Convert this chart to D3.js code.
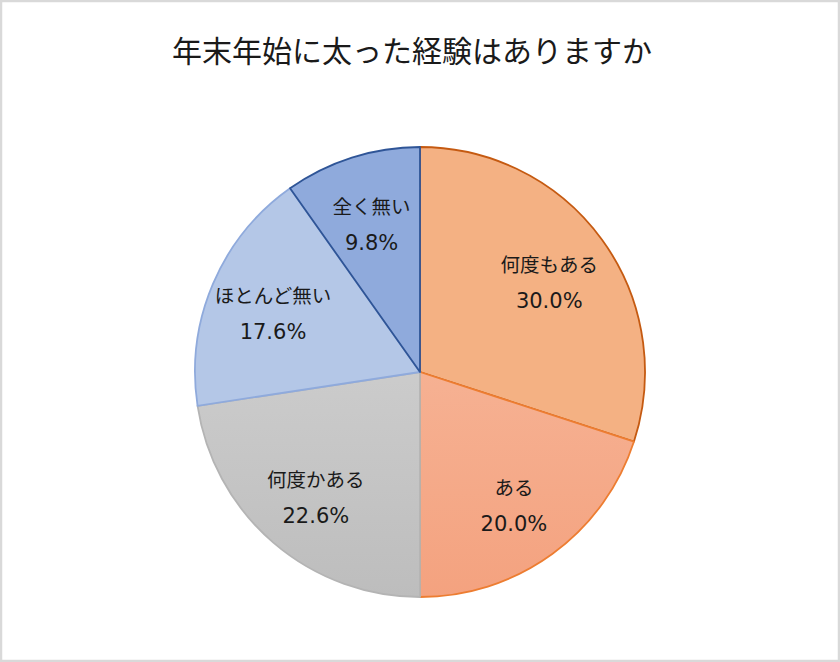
<!DOCTYPE html>
<html>
<head>
<meta charset="utf-8">
<script src="https://cdn.jsdelivr.net/npm/d3@7"></script>
<style>
  html, body { margin: 0; padding: 0; background: #fff; }
  #chart { width: 840px; height: 662px; }
  text { font-family: "Noto Sans CJK JP", "Noto Sans", sans-serif; fill: #1a1a1a; }
  text.pct { font-family: "DejaVu Sans", "Noto Sans", sans-serif; }
</style>
</head>
<body>
<div id="chart"></div>
<script>
// data
const title = "年末年始に太った経験はありますか";
const categories = ["何度もある", "ある", "何度かある", "ほとんど無い", "全く無い"];
const values = [30.0, 20.0, 22.6, 17.6, 9.8];

// fill top/bottom (gradient) and edge colour per slice
const fillTop = ["#F4B183", "#F8C0A6", "#DADADA", "#B4C7E7", "#8FAADC"];
const fillBottom = ["#F4B183", "#F4A27F", "#BDBDBD", "#B4C7E7", "#8FAADC"];
const strokes = ["#C55A11", "#ED7D31", "#B4B4B4", "#8FAADC", "#2F5597"];

const width = 840, height = 662;
const cx = 420, cy = 372, radius = 225;

const svg = d3.select("#chart")
  .append("svg")
  .attr("width", width)
  .attr("height", height);

// outer frame
svg.append("rect")
  .attr("x", 1).attr("y", 1)
  .attr("width", width - 2).attr("height", height - 2)
  .attr("fill", "#fff")
  .attr("stroke", "#D9D9D9")
  .attr("stroke-width", 2.5);

svg.append("text")
  .attr("x", width / 2 - 8)
  .attr("y", 62)
  .attr("text-anchor", "middle")
  .attr("font-size", 30)
  .text(title);

const defs = svg.append("defs");
categories.forEach((c, i) => {
  // gradient runs over the whole pie, top to bottom (coords inside the translated group)
  const gr = defs.append("linearGradient")
    .attr("id", "grad" + i)
    .attr("gradientUnits", "userSpaceOnUse")
    .attr("x1", 0).attr("y1", -radius)
    .attr("x2", 0).attr("y2", radius);
  gr.append("stop").attr("offset", "0%").attr("stop-color", fillTop[i]);
  gr.append("stop").attr("offset", "100%").attr("stop-color", fillBottom[i]);
});

const pie = d3.pie().sort(null).value(d => d.value);
const data = categories.map((c, i) => ({ name: c, value: values[i], i: i }));
const arcs = pie(data);

const arc = d3.arc().innerRadius(0).outerRadius(radius);
const labelArc = d3.arc().innerRadius(radius * 0.71).outerRadius(radius * 0.71);

const g = svg.append("g").attr("transform", `translate(${cx},${cy})`);

g.selectAll("path.slice")
  .data(arcs)
  .enter()
  .append("path")
  .attr("class", "slice")
  .attr("d", arc)
  .attr("fill", d => `url(#grad${d.data.i})`)
  .attr("stroke", d => strokes[d.data.i])
  .attr("stroke-width", 1.8)
  .attr("stroke-linejoin", "round");

const labels = g.selectAll("g.label")
  .data(arcs)
  .enter()
  .append("g")
  .attr("class", "label")
  .attr("transform", d => `translate(${labelArc.centroid(d)})`);

labels.append("text")
  .attr("text-anchor", "middle")
  .attr("y", -6)
  .attr("font-size", 19.5)
  .text(d => d.data.name);

labels.append("text")
  .attr("class", "pct")
  .attr("text-anchor", "middle")
  .attr("y", 30)
  .attr("font-size", 21)
  .text(d => d.data.value.toFixed(1) + "%");
</script>
</body>
</html>
